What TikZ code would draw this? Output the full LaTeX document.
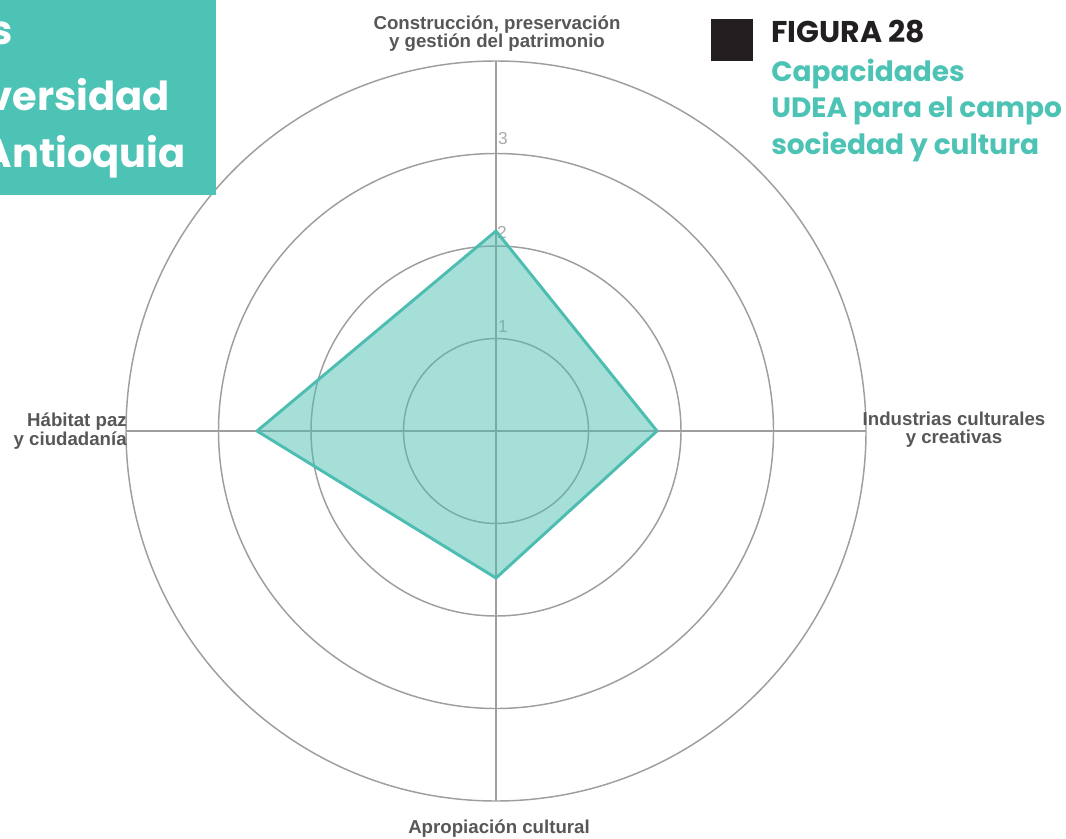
\documentclass[tikz,border=0pt]{standalone}
\usepackage{fontspec}
\setmainfont{Liberation Sans}
\newfontfamily\pop{Poppins}
\definecolor{teal1}{HTML}{4DC3B5}
\definecolor{polyc}{HTML}{4DBDB2}
\definecolor{gridc}{HTML}{9E9E9E}
\definecolor{labc}{HTML}{575757}
\definecolor{tickc}{HTML}{AAAAAA}
\definecolor{darksq}{HTML}{231F20}
\begin{document}
\begin{tikzpicture}[x=0.75pt,y=-0.75pt,
  grid/.style={draw=gridc,line width=1.1pt},
  axlabel/.style={font=\fontsize{14}{13}\selectfont\bfseries, text=labc, inner sep=0pt},
  tick/.style={font=\fontsize{13}{13}\selectfont, text=tickc, inner sep=0pt},
  ttl/.style={font=\pop\bfseries\fontsize{21}{21}\selectfont, text=teal1, inner sep=0pt, anchor=base west},
  boxtxt/.style={font=\pop\bfseries\fontsize{30}{30}\selectfont, text=white, inner sep=0pt, anchor=base east},
  ]
\useasboundingbox (0,0) rectangle (1066,838);
% grid
\coordinate (O) at (496,431);
\coordinate (T) at (496,61);
\coordinate (B) at (496,801);
\coordinate (L) at (126,431);
\coordinate (R) at (866,431);
\foreach \r in {1,...,4} \draw[grid] (O) circle[radius=92.5*\r];
\draw[grid] (T) -- (B);
\draw[grid] (L) -- (R);
% ticks
\node[tick] (t1) at (503,327) {1};
\node[tick] (t2) at (502,232) {2};
\node[tick] (t3) at (503,139) {3};
% data polygon
\coordinate (vt) at (496,231);
\coordinate (vr) at (657,431);
\coordinate (vb) at (496,578);
\coordinate (vl) at (257,431);
\fill[polyc, opacity=0.5] (vt) -- (vr) -- (vb) -- (vl) -- cycle;
\draw[polyc, line width=2.2pt, line join=round] (vt) -- (vr) -- (vb) -- (vl) -- cycle;
% axis labels (base anchor = last line)
\node[axlabel, anchor=base, align=center] (lab1) at (497,48) {Construcción, preservación\\y gestión del patrimonio};
\node[axlabel, anchor=base east, align=right] (lab2) at (127,445) {Hábitat paz\\y ciudadanía};
\node[axlabel, anchor=base, align=center] (lab3) at (954,443) {Industrias culturales\\y creativas};
\node[axlabel, anchor=base] (lab4) at (499,833) {Apropiación cultural};
% left heading box
\node[fill=teal1, anchor=north west, minimum width=162pt, minimum height=146.25pt, inner sep=0pt] (box) at (0,0) {};
\node[boxtxt] (b1) at (13,45) {s};
\node[boxtxt] (b2) at (170,111) {versidad};
\node[boxtxt] (b3) at (186,167) {Antioquia};
% figure title
\node[fill=darksq, inner sep=0pt, minimum size=31.5pt, anchor=north west] (sq) at (711,19) {};
\node[anchor=base west, inner sep=0pt, font=\pop\bfseries\fontsize{22.5}{22.5}\selectfont, text=darksq] (fig) at (771,43) {FIGURA 28};
\node[ttl] (ti1) at (771,82) {Capacidades};
\node[ttl] (ti2) at (771,118) {UDEA para el campo};
\node[ttl] (ti3) at (771,155) {sociedad y cultura};
\end{tikzpicture}
\end{document}
